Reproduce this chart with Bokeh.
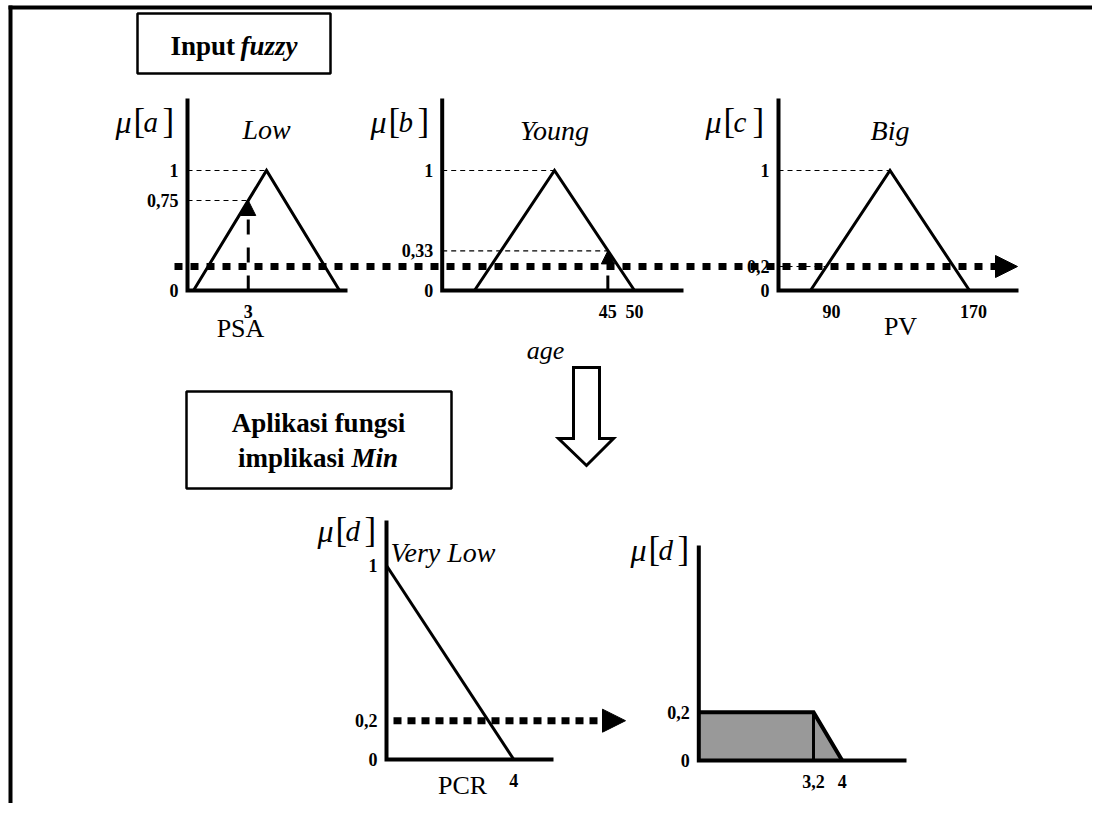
from bokeh.plotting import figure
from bokeh.models import Range1d, Arrow, NormalHead
from bokeh.core.properties import value
from bokeh.embed import file_html
from bokeh.resources import INLINE

# ---------------- data ----------------
psa_low = [0, 4, 8]            # triangular membership "Low" (a, b, c)
psa_input = 3
psa_mu = 0.75
age_young = [20, 35, 50]       # "Young"
age_input = 45
age_mu = 0.33
pv_big = [90, 130, 170]        # "Big"
pv_mu = 0.2
alpha_cut = 0.2                # min of the three
pcr_verylow_x = [0, 4]         # "Very Low"
pcr_verylow_mu = [1, 0]
res_x = [0, 0, 3.2, 4]         # clipped output
res_mu = [0, 0.2, 0.2, 0]

psa_yticks = [0, 0.75, 1]
psa_ylabels = ["0", "0,75", "1"]
psa_xticks = [3]
psa_xlabels = ["3"]
age_yticks = [0, 0.33, 1]
age_ylabels = ["0", "0,33", "1"]
age_xticks = [45, 50]
age_xlabels = ["45", "50"]
pv_yticks = [0, 0.2, 1]
pv_ylabels = ["0", "0,2", "1"]
pv_xticks = [90, 170]
pv_xlabels = ["90", "170"]
pcr_yticks = [0, 0.2, 1]
pcr_ylabels = ["0", "0,2", "1"]
pcr_xticks = [4]
pcr_xlabels = ["4"]
res_yticks = [0, 0.2]
res_ylabels = ["0", "0,2"]
res_xticks = [3.2, 4]
res_xlabels = ["3,2", "4"]

# ---------------- layout (picture pixels) ----------------
FX0, FX1, FY0, FY1 = 0, 1092, 0, 803
FONT = value("Liberation Serif")

geo = {
    "psa": dict(xa=0, pa=193, xb=4, pb=266, ax=(187, 347), ytop=98, yr="top", lab=(173, 121)),
    "age": dict(xa=20, pa=474, xb=50, pb=634, ax=(441.7, 683), ytop=98, yr="top", lab=(428, 121)),
    "pv": dict(xa=90, pa=810, xb=170, pb=969, ax=(778, 1018), ytop=98, yr="top", lab=(763, 121)),
    "pcr": dict(xa=0, pa=386, xb=4, pb=513.3, ax=(386, 553), ytop=520, yr="pcr", lab=(375, 530)),
    "res": dict(xa=0, pa=698.3, xb=4, pb=841.7, ax=(698.3, 906), ytop=545, yr="res", lab=(688, 549)),
}
ygeo = {"top": (290, 170), "pcr": (759, 565), "res": (760, 518.5)}

extra_x, extra_y = {}, {}
for k, g in geo.items():
    s = (g["pb"] - g["pa"]) / (g["xb"] - g["xa"])
    g["s"] = s
    g["X"] = (lambda px, g=g, s=s: g["xa"] + (px - g["pa"]) / s)
    extra_x["x_" + k] = Range1d(g["X"](FX0), g["X"](FX1))
for k, (y0, y1) in ygeo.items():
    t = y0 - y1
    extra_y["y_" + k] = Range1d((y0 - FY1) / t, (y0 - FY0) / t)
for k, g in geo.items():
    y0, y1 = ygeo[g["yr"]]
    g["t"] = y0 - y1
    g["Y"] = (lambda px, y0=y0, t=y0 - y1: (y0 - px) / t)

p = figure(width=FX1 - FX0, height=FY1 - FY0,
           x_range=Range1d(FX0, FX1), y_range=Range1d(FY1, FY0),
           x_axis_location=None, y_axis_location=None,
           output_backend="svg", toolbar_location=None, min_border=0)
p.extra_x_ranges = extra_x
p.extra_y_ranges = extra_y
p.grid.visible = False
p.outline_line_color = None
p.background_fill_color = "white"
p.border_fill_color = "white"


def kw(k):
    return dict(x_range_name="x_" + k, y_range_name="y_" + geo[k]["yr"])


def txt(xs, ys, ss, size, style="normal", align="center", baseline="middle", **extra):
    p.text(x=xs, y=ys, text=ss, text_font=FONT, text_font_size=size,
           text_font_style=style, text_align=align, text_baseline=baseline,
           text_color="black", **extra)


def axes(k):
    g = geo[k]
    X, Y = g["X"], g["Y"]
    a0, a1 = g["ax"]
    p.line([X(a0), X(a0), X(a1)], [Y(g["ytop"]), 0, 0], line_width=4,
           line_color="black", line_join="miter", **kw(k))


def yticks(k, vals, labels):
    g = geo[k]
    xs = [g["X"](g["ax"][0] - 9)] * len(vals)
    txt(xs, vals, labels, "18px", "bold", "right", "middle", **kw(k))


def xticks(k, vals, labels, shifts=None):
    g = geo[k]
    shifts = shifts or [0] * len(vals)
    xs = [v + sh / g["s"] for v, sh in zip(vals, shifts)]
    ys = [-21 / g["t"]] * len(vals)
    txt(xs, ys, labels, "18px", "bold", "center", "middle", **kw(k))


def guide(k, x_end, mu):
    g = geo[k]
    p.line([g["X"](g["ax"][0]), x_end], [mu, mu], line_width=1.2,
           line_color="black", line_dash="5 4", **kw(k))


def mu_label(k, letter):
    ex, by = geo[k]["lab"]
    txt([ex - 58], [by], ["\u03bc"], "32px", "italic", "left", "alphabetic")
    txt([ex - 40], [by], ["["], "35px", "normal", "left", "alphabetic")
    txt([ex - 30], [by], [letter], "29px", "italic", "left", "alphabetic")
    txt([ex - 11], [by], ["]"], "35px", "normal", "left", "alphabetic")


def input_arrow(k, x, mu, size):
    p.add_layout(Arrow(x_start=x, y_start=0, x_end=x, y_end=mu,
                       line_width=3, line_color="black", line_dash="15 13",
                       end=NormalHead(size=size, fill_color="black", line_color="black", line_width=1),
                       **kw(k)))


# ---------------- frame and boxes ----------------
p.line([10, 10], [5, FY1], line_width=4, line_color="black")
p.line([8, FX1], [7, 7], line_width=4, line_color="black")
p.quad(left=[137], right=[330], top=[13], bottom=[73], fill_color=None,
       line_color="black", line_width=2.5)
txt([234.5], [45], ["Input"], "27px", "bold", "right")
txt([240], [45], ["fuzzy"], "27px", "bold italic", "left")
p.quad(left=[186], right=[451], top=[391], bottom=[488], fill_color=None,
       line_color="black", line_width=2.5)
txt([318], [422], ["Aplikasi fungsi"], "27px", "bold", "center")
txt([344], [457], ["implikasi"], "27px", "bold", "right")
txt([351], [457], ["Min"], "27px", "bold italic", "left")

# hollow down arrow
p.patch([573, 599, 599, 613, 586, 558, 573], [367, 367, 438, 438, 465, 438, 438],
        fill_color="white", line_color="black", line_width=3, line_join="miter")

# ---------------- PSA panel ----------------
guide("psa", psa_low[1], 1)
guide("psa", psa_input, psa_mu)
p.line(psa_low, [0, 1, 0], line_width=3, line_color="black", line_join="miter", **kw("psa"))
axes("psa")
yticks("psa", psa_yticks, psa_ylabels)
xticks("psa", psa_xticks, psa_xlabels)
input_arrow("psa", psa_input, psa_mu, 15)
mu_label("psa", "a")
txt([psa_low[1]], [1 + 41 / geo["psa"]["t"]], ["Low"], "28px", "italic", **kw("psa"))
txt([240], [328], ["PSA"], "26px", "normal")

# ---------------- age panel ----------------
guide("age", age_young[1], 1)
guide("age", age_input, age_mu)
p.line(age_young, [0, 1, 0], line_width=3, line_color="black", line_join="miter", **kw("age"))
axes("age")
yticks("age", age_yticks, age_ylabels)
xticks("age", age_xticks, age_xlabels)
input_arrow("age", age_input, age_mu, 13)
mu_label("age", "b")
txt([age_young[1]], [1 + 40 / geo["age"]["t"]], ["Young"], "28px", "italic", **kw("age"))
txt([545], [350], ["age"], "26px", "italic")

# ---------------- PV panel ----------------
guide("pv", pv_big[1], 1)
guide("pv", pv_big[0] + pv_mu * (pv_big[1] - pv_big[0]), pv_mu)
p.line(pv_big, [0, 1, 0], line_width=3, line_color="black", line_join="miter", **kw("pv"))
axes("pv")
yticks("pv", pv_yticks, pv_ylabels)
xticks("pv", pv_xticks, pv_xlabels, shifts=[21, 4])
mu_label("pv", "c")
txt([pv_big[1]], [1 + 40 / geo["pv"]["t"]], ["Big"], "28px", "italic", **kw("pv"))
txt([900], [326], ["PV"], "26px", "normal")

# min level connector across inputs
p.add_layout(Arrow(x_start=174, y_start=alpha_cut, x_end=1017, y_end=alpha_cut,
                   line_width=7, line_color="black", line_dash="8 8",
                   end=NormalHead(size=22, fill_color="black", line_color="black", line_width=1),
                   y_range_name="y_top"))

# ---------------- PCR panel ----------------
p.line(pcr_verylow_x, pcr_verylow_mu, line_width=3, line_color="black", **kw("pcr"))
axes("pcr")
yticks("pcr", pcr_yticks, pcr_ylabels)
xticks("pcr", pcr_xticks, pcr_xlabels)
mu_label("pcr", "d")
txt([pcr_verylow_x[0] + 4 / geo["pcr"]["s"]], [1 + 13 / geo["pcr"]["t"]], ["Very Low"],
    "28px", "italic", "left", **kw("pcr"))
txt([462], [785], ["PCR"], "26px", "normal")
gp = geo["pcr"]
p.add_layout(Arrow(x_start=gp["X"](393), y_start=alpha_cut, x_end=gp["X"](625), y_end=alpha_cut,
                   line_width=7, line_color="black", line_dash="8 6",
                   end=NormalHead(size=23, fill_color="black", line_color="black", line_width=1),
                   **kw("pcr")))

# ---------------- result panel ----------------
p.patch(res_x, res_mu, fill_color="#999999", line_color=None, **kw("res"))
p.line(res_x[1:], res_mu[1:], line_width=4, line_color="black", line_join="miter", **kw("res"))
p.line([res_x[2], res_x[2]], [0, res_mu[2]], line_width=3, line_color="black", **kw("res"))
axes("res")
yticks("res", res_yticks, res_ylabels)
xticks("res", res_xticks, res_xlabels)
mu_label("res", "d")

open("out.html", "w").write(file_html(p, INLINE))
